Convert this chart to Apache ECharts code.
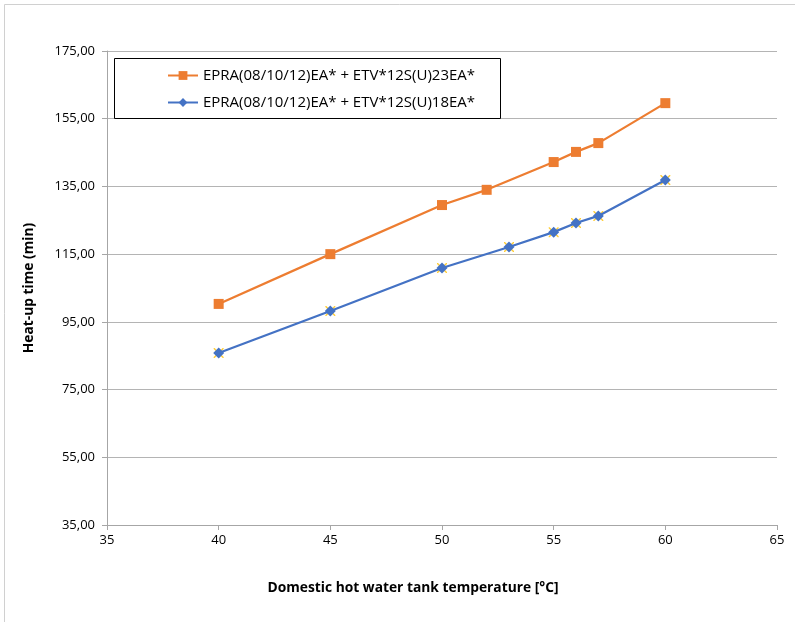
<!DOCTYPE html>
<html>
<head>
<meta charset="utf-8">
<script src="https://cdn.jsdelivr.net/npm/echarts@6/dist/echarts.min.js"></script>
<style>
html,body{margin:0;padding:0;background:#fff;}
#chart{width:795px;height:622px;}
</style>
</head>
<body>
<div id="chart"></div>
<script>
const seriesNames = [
  'EPRA(08/10/12)EA* + ETV*12S(U)23EA*',
  'EPRA(08/10/12)EA* + ETV*12S(U)18EA*'
];
const tempsA = [40, 45, 50, 52, 55, 56, 57, 60];
const timesA = [100.3, 115.0, 129.5, 134.0, 142.2, 145.2, 147.8, 159.6];
const tempsB = [40, 45, 50, 53, 55, 56, 57, 60];
const timesB = [85.8, 98.2, 110.9, 117.1, 121.5, 124.2, 126.3, 136.9];
const xTitle = 'Domestic hot water tank temperature [°C]';
const yTitle = 'Heat-up time (min)';

const font = '"Open Sans", "Noto Sans", sans-serif';
const pairs = (xs, ys) => xs.map((x, i) => [x, ys[i]]);
const xMark = 'path://M0,0L2,0L10,8L18,0L20,0L20,2L12,10L20,18L20,20L18,20L10,12L2,20L0,20L0,18L8,10L0,2Z';

const chart = echarts.init(document.getElementById('chart'));
chart.setOption({
  animation: false,
  backgroundColor: '#fff',
  grid: { left: 107, right: 18, top: 51, bottom: 97 },
  graphic: [
    { type: 'line', shape: { x1: 4.5, y1: 4.5, x2: 795, y2: 4.5 }, style: { stroke: '#d0d0d0', lineWidth: 1 } },
    { type: 'line', shape: { x1: 4.5, y1: 4.5, x2: 4.5, y2: 622 }, style: { stroke: '#d0d0d0', lineWidth: 1 } },
    { type: 'rect', shape: { x: 114.5, y: 58.5, width: 386, height: 60 }, style: { fill: '#fff', stroke: '#000', lineWidth: 1 }, z: 5 }
  ],
  legend: {
    orient: 'vertical',
    left: 162,
    top: 63,
    itemWidth: 30,
    itemHeight: 11,
    itemGap: 12,
    z: 10,
    textStyle: { fontFamily: font, fontSize: 15, color: '#000' },
    data: seriesNames
  },
  xAxis: {
    type: 'value',
    min: 35, max: 65, interval: 5,
    name: xTitle,
    nameLocation: 'middle',
    nameGap: 56,
    nameTextStyle: { fontFamily: font, fontSize: 13.8, fontWeight: 'bold', color: '#000', padding: [0, 58, 0, 0] },
    axisLine: { show: true, lineStyle: { color: '#a6a6a6' } },
    axisTick: { show: true, inside: false, length: 5, lineStyle: { color: '#a6a6a6' } },
    axisLabel: { fontFamily: font, fontSize: 13, color: '#000', margin: 9 },
    splitLine: { show: false }
  },
  yAxis: {
    type: 'value',
    min: 35, max: 175, interval: 20,
    name: yTitle,
    nameLocation: 'middle',
    nameGap: 71,
    nameRotate: 90,
    nameTextStyle: { fontFamily: font, fontSize: 13.8, fontWeight: 'bold', color: '#000' },
    axisLine: { show: true, lineStyle: { color: '#a6a6a6' } },
    axisTick: { show: true, inside: false, length: 5, lineStyle: { color: '#a6a6a6' } },
    axisLabel: { fontFamily: font, fontSize: 13, color: '#000', margin: 12,
      formatter: v => v.toFixed(2).replace('.', ',') },
    splitLine: { show: true, lineStyle: { color: '#b4b4b4', width: 1 } }
  },
  series: [
    {
      name: seriesNames[0],
      type: 'line',
      data: pairs(tempsA, timesA),
      symbol: 'rect',
      symbolSize: 10,
      lineStyle: { color: '#ed7d31', width: 2.25 },
      itemStyle: { color: '#ed7d31' },
      z: 3
    },
    {
      name: 'xmarks',
      type: 'scatter',
      data: pairs(tempsB, timesB),
      symbol: xMark,
      symbolSize: 10,
      itemStyle: { color: '#ffc000' },
      silent: true,
      z: 2
    },
    {
      name: seriesNames[1],
      type: 'line',
      data: pairs(tempsB, timesB),
      symbol: 'diamond',
      symbolSize: 11,
      lineStyle: { color: '#4472c4', width: 2.25 },
      itemStyle: { color: '#4472c4' },
      z: 3
    }
  ]
});
</script>
</body>
</html>
